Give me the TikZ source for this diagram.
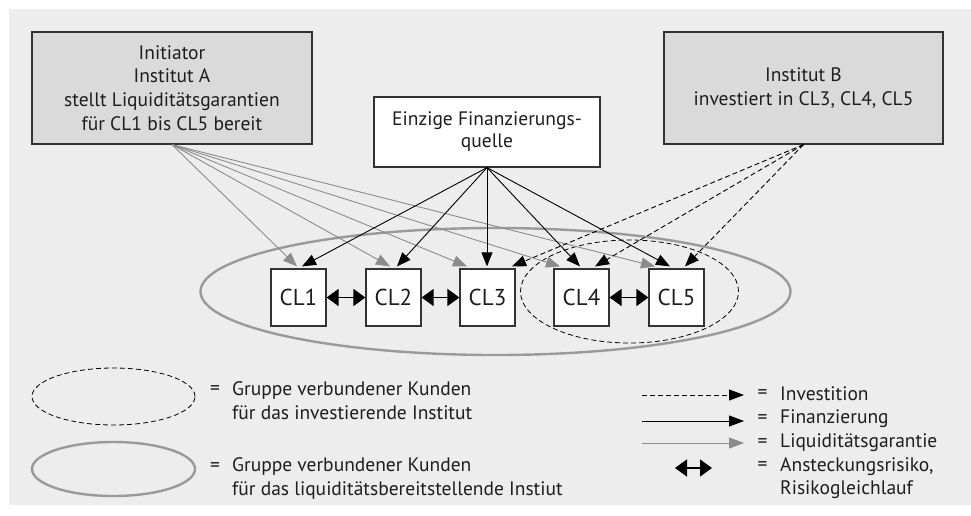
\documentclass[tikz,border=0pt]{standalone}
\usepackage{fontspec}
\setmainfont{PT Sans}
\usetikzlibrary{arrows.meta,shapes.geometric}
\definecolor{panel}{HTML}{EDEDED}
\definecolor{boxgray}{HTML}{DADADA}
\definecolor{edge}{HTML}{333333}
\definecolor{garrow}{HTML}{8C8C8C}
\definecolor{gring}{HTML}{9A9A9A}
\definecolor{txt}{HTML}{1E1E1E}
\tikzset{
  txtfont/.style={font=\fontsize{19.5}{23.7}\selectfont, text=txt},
  bigbox/.style={draw=edge, line width=1.2pt, inner sep=0pt, align=center, txtfont},
  clbox/.style={draw=edge, line width=1.2pt, fill=white, inner sep=0pt, minimum width=55pt, minimum height=57pt, font=\fontsize{23}{26}\selectfont, text=txt},
  tip/.style={-{Triangle[length=14pt,width=11pt]}},
  garr/.style={tip, draw=garrow, line width=0.9pt, color=garrow},
  barr/.style={tip, draw=black, line width=0.9pt},
  darr/.style={tip, draw=black, line width=0.9pt, dash pattern=on 5pt off 3pt},
  dblarr/.style={{Triangle[length=12pt,width=17pt]}-{Triangle[length=12pt,width=17pt]}, line width=1.6pt, black},
  ring/.style={ellipse, draw=gring, line width=2.4pt, inner sep=0pt},
  dring/.style={ellipse, draw=black, line width=0.8pt, dash pattern=on 5pt off 3pt, inner sep=0pt},
  legtxt/.style={txtfont, anchor=west, align=left, inner sep=0pt},
  eqtxt/.style={txtfont, inner sep=0pt},
}
\begin{document}
\begin{tikzpicture}[x=1pt,y=-1pt]
\useasboundingbox (0,0) rectangle (971,515);
\fill[panel] (9,9) rectangle (971,505);

% ellipses
\node[ring, minimum width=590pt, minimum height=127pt] (grp) at (495.5,291.5) {};
\node[dring, minimum width=218pt, minimum height=103pt] (dgrp) at (629.5,291.5) {};

% top boxes
\node[bigbox, fill=boxgray, minimum width=280pt, minimum height=112pt] (A) at (172,88) {Initiator\\Institut A\\stellt Liquiditätsgarantien\\für CL1 bis CL5 bereit};
\node[bigbox, fill=boxgray, minimum width=279pt, minimum height=112pt] (B) at (803.5,88) {Institut B\\investiert in CL3, CL4, CL5};
\node[bigbox, fill=white, minimum width=226pt, minimum height=70pt, font=\fontsize{19.5}{22}\selectfont] (F) at (487,132) {Einzige Finanzierungs-\\quelle};

% CL boxes
\node[clbox] (c1) at (298.5,297.5) {CL1};
\node[clbox] (c2) at (393.5,297.5) {CL2};
\node[clbox] (c3) at (487.5,297.5) {CL3};
\node[clbox] (c4) at (581.5,297.5) {CL4};
\node[clbox] (c5) at (676.5,297.5) {CL5};

% liquidity guarantees
\draw[garr] (A.south) -- ([xshift=-1.5pt,yshift=2pt]c1.north);
\draw[garr] (A.south) -- ([xshift=-3.5pt,yshift=2pt]c2.north);
\draw[garr] (A.south) -- ([xshift=-20.5pt,yshift=2pt]c3.north);
\draw[garr] (A.south) -- ([xshift=-21.5pt,yshift=2pt]c4.north);
\draw[garr] (A.south) -- ([xshift=-21.5pt,yshift=2pt]c5.north);

% financing
\draw[barr] (F.south) -- ([xshift=3.5pt,yshift=2pt]c1.north);
\draw[barr] (F.south) -- ([xshift=3.5pt,yshift=2pt]c2.north);
\draw[barr] (F.south) -- ([xshift=-0.5pt,yshift=2pt]c3.north);
\draw[barr] (F.south) -- ([xshift=-1.5pt,yshift=2pt]c4.north);
\draw[barr] (F.south) -- ([xshift=-6.5pt,yshift=2pt]c5.north);

% investment
\draw[darr] (B.south) -- ([xshift=24.5pt,yshift=2pt]c3.north);
\draw[darr] (B.south) -- ([xshift=13.5pt,yshift=2pt]c4.north);
\draw[darr] (B.south) -- ([xshift=8.5pt,yshift=2pt]c5.north);

% contagion
\draw[dblarr] (c1.east) -- (c2.west);
\draw[dblarr] (c2.east) -- (c3.west);
\draw[dblarr] (c4.east) -- (c5.west);

% legend left
\node[dring, minimum width=163pt, minimum height=57pt] (ld) at (113.5,396.5) {};
\node[eqtxt] (e1) at (215,390) {=};
\node[legtxt] (t1) at (232,401) {Gruppe verbundener Kunden\\für das investierende Institut};
\node[ring, minimum width=163pt, minimum height=54pt] (lg) at (113.5,469) {};
\node[eqtxt] (e2) at (215,467) {=};
\node[legtxt] (t2) at (232,478.5) {Gruppe verbundener Kunden\\für das liquiditätsbereitstellende Instiut};

% legend right
\tikzset{legarr/.style={-{Triangle[length=15pt,width=11pt]}}}
\coordinate (i1) at (642,395); \coordinate (i2) at (744,395);
\coordinate (f1) at (642,421); \coordinate (f2) at (744,421);
\coordinate (g1) at (642,443); \coordinate (g2) at (744,443);
\coordinate (r1) at (675,468); \coordinate (r2) at (712,468);
\draw[legarr, line width=0.9pt, dash pattern=on 5pt off 3pt] (i1) -- (i2);
\draw[legarr, line width=0.9pt] (f1) -- (f2);
\draw[legarr, line width=0.9pt, draw=garrow, color=garrow] (g1) -- (g2);
\draw[dblarr] (r1) -- (r2);
\node[eqtxt] (e3) at (762.5,394) {=};
\node[legtxt] (t3) at (780,394) {Investition};
\node[eqtxt] (e4) at (762.5,419) {=};
\node[legtxt] (t4) at (780,419) {Finanzierung};
\node[eqtxt] (e5) at (762.5,443) {=};
\node[legtxt] (t5) at (780,443) {Liquiditätsgarantie};
\node[eqtxt] (e6) at (762.5,466) {=};
\node[legtxt] (t6) at (780,478) {Ansteckungsrisiko,\\Risikogleichlauf};
\end{tikzpicture}
\end{document}
